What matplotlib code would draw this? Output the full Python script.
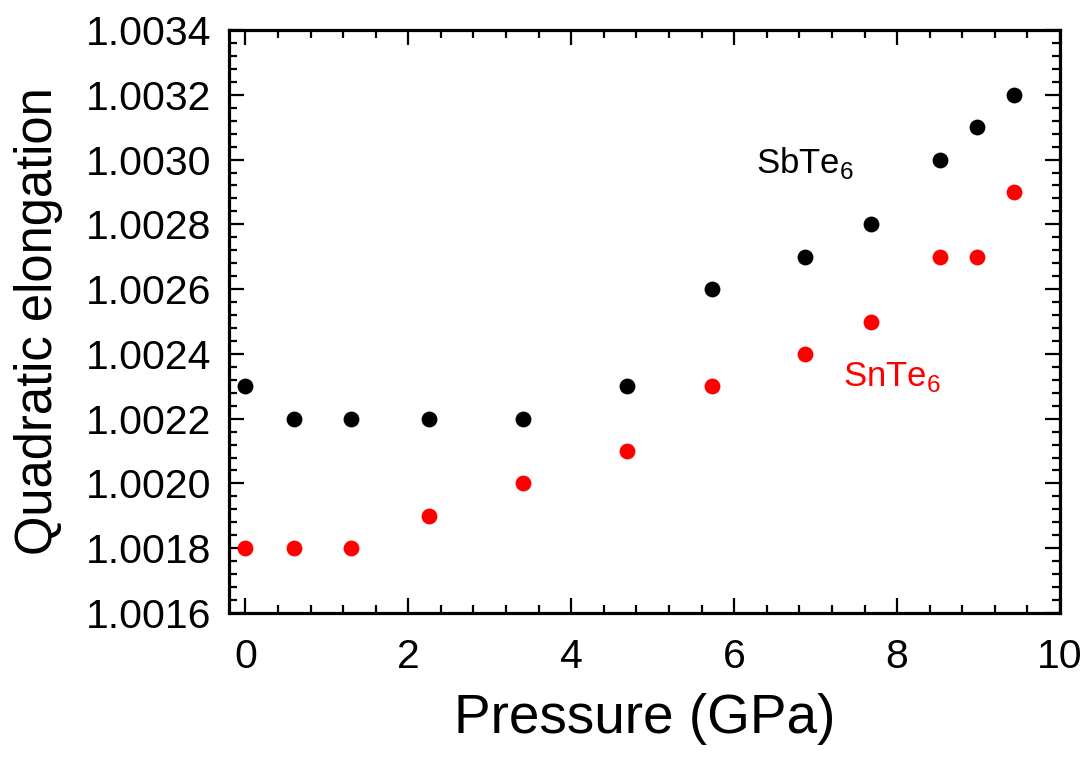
import matplotlib
matplotlib.use("Agg")
import matplotlib.pyplot as plt
from matplotlib.ticker import MultipleLocator, FormatStrFormatter

plt.rcParams["font.family"] = ["Liberation Sans", "DejaVu Sans"]
plt.rcParams["mathtext.fontset"] = "custom"
plt.rcParams["mathtext.rm"] = "Liberation Sans"

# ── data ──────────────────────────────────────────────────────────────
pressure = [0.0, 0.6, 1.3, 2.26, 3.41, 4.69, 5.73, 6.87, 7.68, 8.53, 8.98, 9.44]
sbte6 = [1.0023, 1.0022, 1.0022, 1.0022, 1.0022, 1.0023,
         1.0026, 1.0027, 1.0028, 1.0030, 1.0031, 1.0032]
snte6 = [1.0018, 1.0018, 1.0018, 1.0019, 1.0020, 1.0021,
         1.0023, 1.0024, 1.0025, 1.0027, 1.0027, 1.0029]

fig = plt.figure(figsize=(10.86, 7.58), dpi=100)
ax = fig.add_axes([0.2109, 0.1913, 0.7652, 0.7691])

ax.scatter(pressure, sbte6, s=130, color="black", zorder=3, linewidths=0)
ax.scatter(pressure, snte6, s=130, color="red", zorder=3, linewidths=0)

ax.text(6.27, 1.00299, r"SbTe$_6$", fontsize=25, color="black", va="center")
ax.text(7.33, 1.00233, r"SnTe$_6$", fontsize=25, color="red", va="center")

ax.set_xlim(-0.2, 10)
ax.set_ylim(1.0016, 1.0034)
ax.xaxis.set_major_locator(MultipleLocator(2))
ax.xaxis.set_minor_locator(MultipleLocator(0.4))
ax.yaxis.set_major_locator(MultipleLocator(0.0002))
ax.yaxis.set_minor_locator(MultipleLocator(0.00004))
ax.yaxis.set_major_formatter(FormatStrFormatter("%.4f"))

for sp in ax.spines.values():
    sp.set_linewidth(2.3)
ax.tick_params(which="both", direction="in", top=True, right=True, width=1.6)
ax.tick_params(which="major", length=11, labelsize=29.5)
ax.tick_params(axis="x", which="major", pad=18)
ax.tick_params(axis="y", which="major", pad=13)
ax.tick_params(which="minor", length=6)

ax.set_xlabel("Pressure (GPa)", fontsize=39.5, labelpad=12)
ax.set_ylabel("Quadratic elongation", fontsize=36.5, labelpad=16)

fig.savefig("out.png", dpi=100)
